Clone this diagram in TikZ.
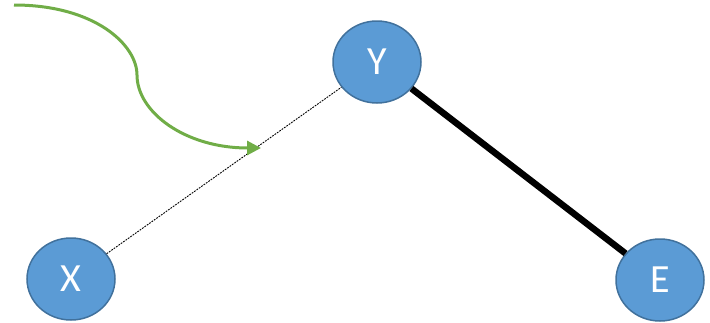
\documentclass[tikz,border=0pt]{standalone}
\usepackage{fontspec}
\setmainfont{Carlito}
\usetikzlibrary{shapes.geometric,arrows.meta}
\definecolor{nodefill}{HTML}{5B9BD5}
\definecolor{nodeline}{HTML}{41719C}
\definecolor{flow}{HTML}{70AD47}
\begin{document}
\begin{tikzpicture}[x=1pt,y=-1pt,
  var/.style={ellipse, draw=nodeline, line width=1.5pt, fill=nodefill,
    minimum width=88pt, minimum height=82pt, inner sep=0pt,
    text=white, font=\fontsize{40}{44}\selectfont},
  weak/.style={black, line width=0.9pt, dash pattern=on 1.8pt off 1.1pt},
  strong/.style={black, line width=6.5pt},
  flowarrow/.style={flow, line width=3pt, -{Triangle[length=14pt,width=14pt]}}]
\useasboundingbox (0,0) rectangle (710,322);
% variables
\node[var] (Y) at (377,62) {Y};
\node[var] (X) at (71,279) {X};
\node[var] (E) at (660,280) {E};
% links between variables
\draw[weak] (X) -- (Y);
\draw[strong] (Y) -- (E);
% curved arrow pointing at the weak link
\coordinate (start) at (14,5);
\coordinate (tip) at (261,148);
\draw[flowarrow] (start) .. controls (95,5) and (137,45) .. (137,75)
  .. controls (137,112) and (185,148) .. (tip);
\end{tikzpicture}
\end{document}
